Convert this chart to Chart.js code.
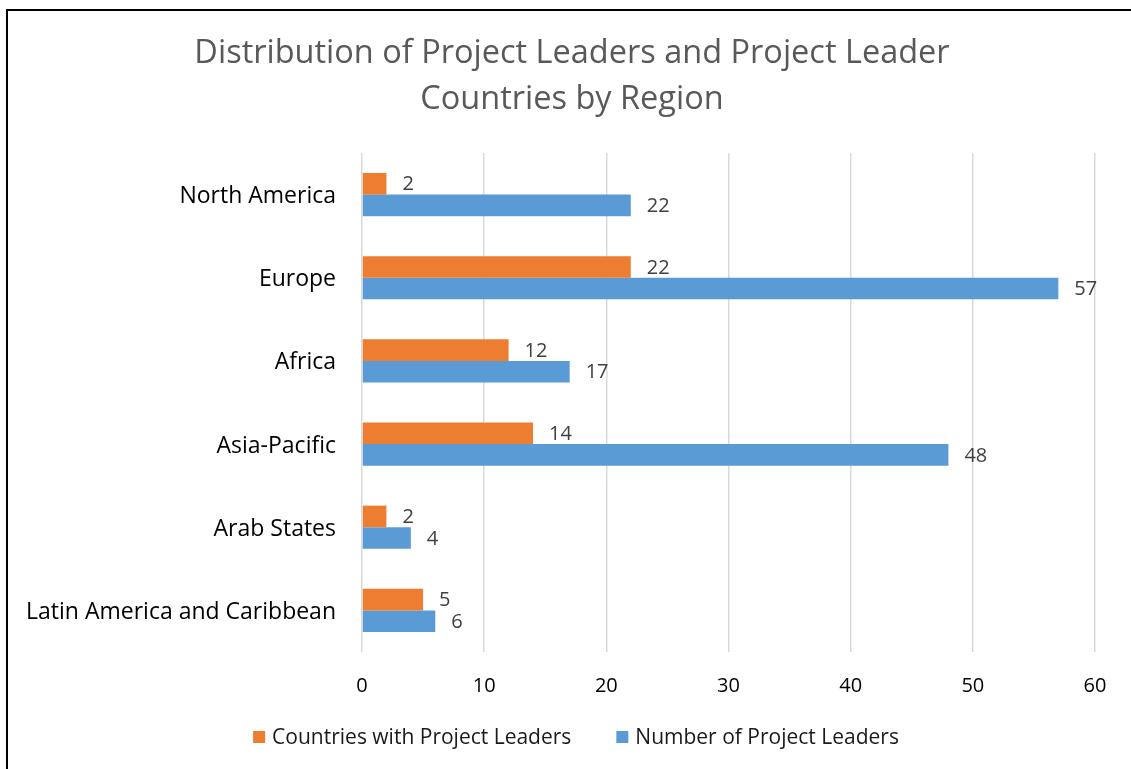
<!DOCTYPE html>
<html>
<head>
<meta charset="utf-8">
<script src="https://cdn.jsdelivr.net/npm/chart.js@4.4.1/dist/chart.umd.min.js"></script>
<style>
html,body{margin:0;padding:0;background:#fff;overflow:hidden;}
#frame{position:absolute;left:6px;top:9px;width:2000px;height:2000px;border:2px solid #000;}
#c{position:absolute;left:0;top:0;}
</style>
</head>
<body>
<div id="frame"></div>
<canvas id="c" width="1131" height="769"></canvas>
<script>
const titleLines = ["Distribution of Project Leaders and Project Leader", "Countries by Region"];
const categories = ["North America", "Europe", "Africa", "Asia-Pacific", "Arab States", "Latin America and Caribbean"];
const seriesNames = ["Countries with Project Leaders", "Number of Project Leaders"];
const countriesWithLeaders = [2, 22, 12, 14, 2, 5];
const numberOfLeaders = [22, 57, 17, 48, 4, 6];
const xTicks = [0, 10, 20, 30, 40, 50, 60];

const FONT = "'Open Sans', sans-serif";

const valueLabels = {
  id: 'valueLabels',
  afterDatasetsDraw(chart) {
    const ctx = chart.ctx;
    ctx.save();
    ctx.font = "20px " + FONT;
    ctx.fillStyle = "#404040";
    ctx.textAlign = "left";
    ctx.textBaseline = "middle";
    chart.data.datasets.forEach((ds, di) => {
      const meta = chart.getDatasetMeta(di);
      meta.data.forEach((bar, i) => {
        ctx.fillText(String(ds.data[i]), bar.x + 16, bar.y + 1);
      });
    });
    ctx.restore();
  }
};

const customLegend = {
  id: 'customLegend',
  afterDraw(chart) {
    const ctx = chart.ctx;
    ctx.save();
    ctx.font = "21px " + FONT;
    ctx.textBaseline = "middle";
    ctx.textAlign = "left";
    const box = 12, gapText = 7, gapItem = 45;
    const items = chart.data.datasets.map(ds => ({label: ds.label, color: ds.backgroundColor, w: ctx.measureText(ds.label).width}));
    let total = 0;
    items.forEach((it, i) => { total += box + gapText + it.w + (i < items.length - 1 ? gapItem : 0); });
    let x = 576 - total / 2;
    const y = 737;
    items.forEach(it => {
      ctx.fillStyle = it.color;
      ctx.fillRect(x, y - 6, box, box);
      ctx.fillStyle = "#1a1a1a";
      ctx.fillText(it.label, x + box + gapText, y + 1);
      x += box + gapText + it.w + gapItem;
    });
    ctx.restore();
  }
};

new Chart(document.getElementById('c'), {
  type: 'bar',
  data: {
    labels: categories,
    datasets: [
      { label: seriesNames[0], data: countriesWithLeaders, backgroundColor: '#ED7D31', barPercentage: 1, categoryPercentage: 0.52 },
      { label: seriesNames[1], data: numberOfLeaders, backgroundColor: '#5B9BD5', barPercentage: 1, categoryPercentage: 0.52 }
    ]
  },
  options: {
    indexAxis: 'y',
    responsive: false,
    animation: false,
    layout: { padding: { left: 13, right: 0, top: 0, bottom: 0 } },
    plugins: {
      legend: { display: false },
      tooltip: { enabled: false },
      title: {
        display: true,
        text: titleLines,
        color: '#595959',
        font: { family: FONT, size: 32.5, weight: 'normal', lineHeight: 1.42 },
        padding: { top: 31, bottom: 29.7 }
      }
    },
    scales: {
      x: {
        min: 0, max: 60,
        afterBuildTicks(scale) { scale.ticks = xTicks.map(v => ({ value: v })); },
        afterFit(scale) { scale.height = 117; },
        grid: { color: '#d9d9d9', lineWidth: 1.5, drawTicks: false },
        border: { display: false },
        ticks: { color: '#000', padding: 22, font: { family: FONT, size: 20 } }
      },
      y: {
        afterFit(scale) { scale.width = 349; },
        grid: { display: false, drawTicks: false },
        border: { display: false },
        ticks: { color: '#000', padding: 26, labelOffset: 2, font: { family: FONT, size: 23 } }
      },
      yRight: {
        type: 'category',
        position: 'right',
        afterFit(scale) { scale.width = 36; },
        grid: { display: false, drawTicks: false },
        border: { display: false },
        ticks: { display: false }
      }
    }
  },
  plugins: [valueLabels, customLegend]
});
</script>
</body>
</html>
